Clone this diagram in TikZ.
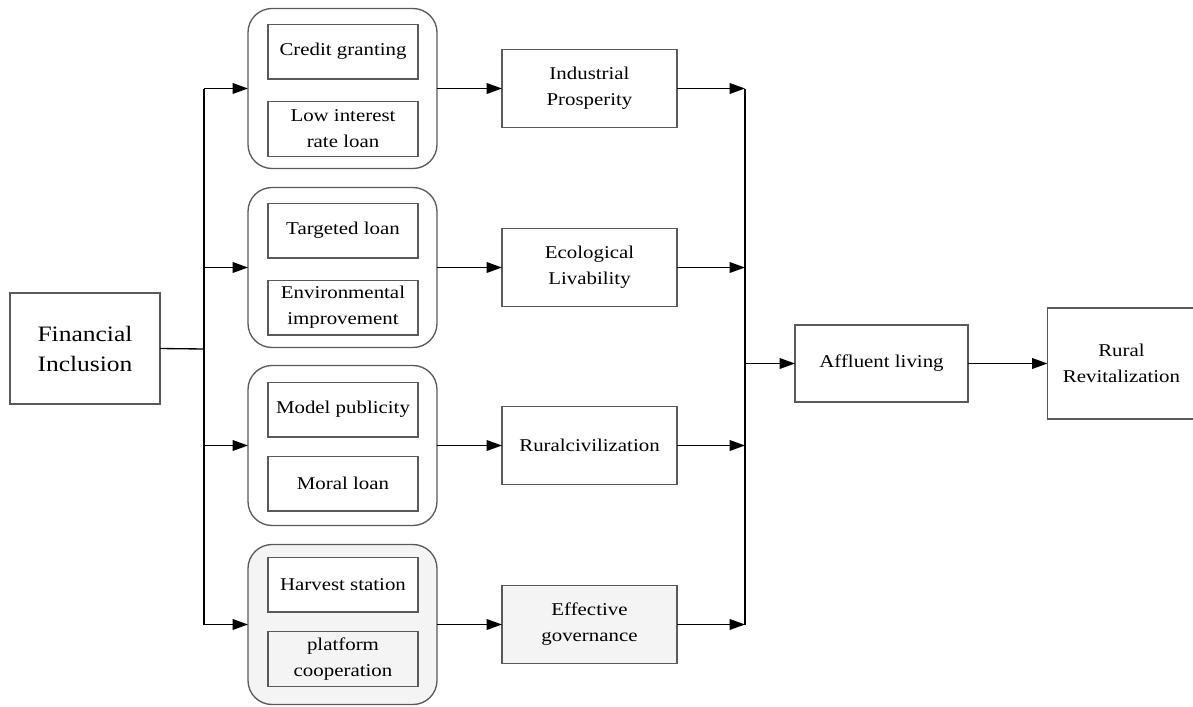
\documentclass[tikz,border=0pt]{standalone}
\usepackage{fontspec}
\setmainfont{Liberation Serif}[FakeStretch=1.16]
\usetikzlibrary{positioning,arrows.meta}
\definecolor{boxline}{HTML}{5A5A5A}
\definecolor{softgray}{HTML}{F4F4F4}
\definecolor{paper}{HTML}{FFFFFF}
\tikzset{
  plainbox/.style={
    draw=boxline, line width=1pt, fill=paper,
    inner sep=0pt, outer sep=0pt, align=center,
    font=\fontsize{13.5}{19.5}\selectfont
  },
  mainbox/.style={plainbox, minimum width=112.5pt, minimum height=83.25pt,
    font=\fontsize{16.5}{22.5}\selectfont},
  groupbox/.style={plainbox, rounded corners=18pt,
    minimum width=141.75pt, minimum height=120pt},
  itembox/.style={plainbox, minimum width=112.5pt, minimum height=41pt},
  goalbox/.style={plainbox, minimum width=131.25pt, minimum height=58.5pt},
  arrow/.style={-{Triangle[length=11.5pt,width=8pt]}, line width=1pt},
  link/.style={line width=1pt}
}
\begin{document}
\begin{tikzpicture}[x=0.75pt,y=-0.75pt]
  \useasboundingbox (0,0) rectangle (1193,707);

  \node[mainbox] (fin) at (85,348.5) {Financial\\Inclusion};

  % four groups of measures
  \node[groupbox] (g1) at (342.5,88.5) {};
  \node[groupbox] (g2) at (342.5,267.5) {};
  \node[groupbox] (g3) at (342.5,445.5) {};
  \node[groupbox, fill=softgray] (g4) at (342.5,624.5) {};

  \node[itembox] (credit) at (343,51.5) {Credit granting};
  \node[itembox] (lowrate) at (343,129) {Low interest\\rate loan};
  \node[itembox] (target) at (343,230.5) {Targeted loan};
  \node[itembox] (envir) at (343,307.5) {Environmental\\improvement};
  \node[itembox] (model) at (343,409.5) {Model publicity};
  \node[itembox] (moral) at (343,483.5) {Moral loan};
  \node[itembox, fill=paper] (harvest) at (343,584.5) {Harvest station};
  \node[itembox, fill=softgray] (platform) at (343,659) {platform\\cooperation};

  % goals
  \node[goalbox] (m1) at (589.5,88.5) {Industrial\\Prosperity};
  \node[goalbox] (m2) at (589.5,267.5) {Ecological\\Livability};
  \node[goalbox] (m3) at (589.5,445.5) {Ruralcivilization};
  \node[goalbox, fill=softgray] (m4) at (589.5,624.5) {Effective\\governance};

  \node[plainbox, minimum width=129.75pt, minimum height=57.75pt] (aff) at (881.5,363.5) {Affluent living};
  \node[plainbox, minimum width=111pt, minimum height=83.25pt] (rural) at (1121.5,363.5) {Rural\\Revitalization};

  \coordinate (trunk) at (204,349);
  \coordinate (bus) at (745,363.5);

  \draw[link] (fin.east) -- (trunk);
  \draw[link] (g1.west -| trunk) -- (g4.west -| trunk);
  \draw[arrow] (g1.west -| trunk) -- (g1.west);
  \draw[arrow] (g2.west -| trunk) -- (g2.west);
  \draw[arrow] (g3.west -| trunk) -- (g3.west);
  \draw[arrow] (g4.west -| trunk) -- (g4.west);

  \draw[arrow] (g1.east) -- (m1.west);
  \draw[arrow] (g2.east) -- (m2.west);
  \draw[arrow] (g3.east) -- (m3.west);
  \draw[arrow] (g4.east) -- (m4.west);

  \draw[arrow] (m1.east) -- (m1.east -| bus);
  \draw[arrow] (m2.east) -- (m2.east -| bus);
  \draw[arrow] (m3.east) -- (m3.east -| bus);
  \draw[arrow] (m4.east) -- (m4.east -| bus);
  \draw[link] (m1.east -| bus) -- (m4.east -| bus);

  \draw[arrow] (bus) -- (aff.west);
  \draw[arrow] (aff.east) -- (rural.west);
\end{tikzpicture}
\end{document}
